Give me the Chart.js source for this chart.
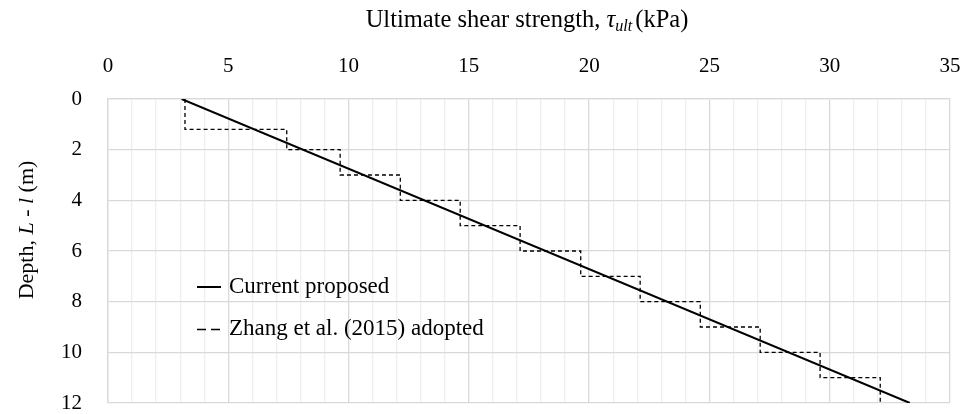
<!DOCTYPE html>
<html>
<head>
<meta charset="utf-8">
<script src="https://cdn.jsdelivr.net/npm/chart.js@4.4.1/dist/chart.umd.min.js"></script>
<style>
  html, body { margin: 0; padding: 0; background: #ffffff; }
  #wrap { width: 969px; height: 414px; }
</style>
</head>
<body>
<div id="wrap"><canvas id="c" width="969" height="414"></canvas></div>
<script>
// Current proposed profile: linear with depth
const currentDepth = [0, 12];
const currentStrength = [3.06, 33.33];

// Zhang et al. (2015) adopted profile: constant strength within each layer
const layerTop = [0, 1.2, 2, 3, 4, 5, 6, 7, 8, 9, 10, 11];
const layerBottom = [1.2, 2, 3, 4, 5, 6, 7, 8, 9, 10, 11, 12];
const layerStrength = [3.2, 7.43, 9.65, 12.15, 14.64, 17.13, 19.65, 22.12, 24.62, 27.11, 29.6, 32.1];

const seriesNames = ['Current proposed', 'Zhang et al. (2015) adopted'];

const xTicks = [0, 5, 10, 15, 20, 25, 30, 35];
const yTicks = [0, 2, 4, 6, 8, 10, 12];

const FONT = '"Liberation Serif", "Times New Roman", serif';
const TICK_FS = 21;
const TITLE_FS = 24.5;
const KEY_FS = 23;

const currentPts = currentDepth.map((d, i) => ({ x: currentStrength[i], y: d }));
const stepPts = [];
layerStrength.forEach((s, i) => {
  stepPts.push({ x: s, y: layerTop[i] });
  stepPts.push({ x: s, y: layerBottom[i] });
});

// draws a run of text pieces with their own style, centred on x
function drawRich(ctx, parts, x, y) {
  let w = 0;
  parts.forEach(p => {
    ctx.font = (p.italic ? 'italic ' : '') + p.size + 'px ' + FONT;
    w += ctx.measureText(p.text).width + (p.gap || 0);
  });
  let cx = x - w / 2;
  parts.forEach(p => {
    ctx.font = (p.italic ? 'italic ' : '') + p.size + 'px ' + FONT;
    ctx.fillText(p.text, cx, y + (p.dy || 0));
    cx += ctx.measureText(p.text).width + (p.gap || 0);
  });
}

const annotations = {
  id: 'axisTitlesAndKey',
  afterDraw(chart) {
    const ctx = chart.ctx;
    ctx.save();
    ctx.fillStyle = '#000';
    ctx.textBaseline = 'middle';
    ctx.textAlign = 'left';

    // horizontal axis title
    drawRich(ctx, [
      { text: 'Ultimate shear strength, ', size: TITLE_FS },
      { text: 'τ', size: TITLE_FS, italic: true },
      { text: 'ult', size: TITLE_FS * 0.66, italic: true, dy: 6, gap: 3 },
      { text: '(kPa)', size: TITLE_FS }
    ], 527, 21);

    // vertical axis title
    ctx.save();
    ctx.translate(27, 230);
    ctx.rotate(-Math.PI / 2);
    drawRich(ctx, [
      { text: 'Depth, ', size: 22 },
      { text: 'L', size: 22, italic: true },
      { text: ' - ', size: 22 },
      { text: 'l', size: 22, italic: true },
      { text: ' (m)', size: 22 }
    ], 0, 0);
    ctx.restore();

    // key inside the plot
    const rows = [287, 329];
    const sampleDash = [[], [9, 5]];
    chart.data.datasets.forEach((ds, i) => {
      const y = rows[i];
      ctx.save();
      ctx.strokeStyle = ds.borderColor;
      ctx.lineWidth = i === 0 ? 2 : 1.4;
      ctx.setLineDash(sampleDash[i]);
      ctx.beginPath();
      ctx.moveTo(197, y + (i === 0 ? 0 : 0.5));
      ctx.lineTo(221, y + (i === 0 ? 0 : 0.5));
      ctx.stroke();
      ctx.restore();
      ctx.font = KEY_FS + 'px ' + FONT;
      ctx.fillText(ds.label, 229, y);
    });
    ctx.restore();
  }
};

function noLabelPadding(scale) {
  scale.paddingTop = 0;
  scale.paddingBottom = 0;
  scale.paddingLeft = 0;
  scale.paddingRight = 0;
}

new Chart(document.getElementById('c'), {
  type: 'scatter',
  data: {
    datasets: [
      {
        label: seriesNames[0],
        data: currentPts,
        showLine: true,
        borderColor: '#000000',
        borderWidth: 2,
        pointRadius: 0,
        fill: false
      },
      {
        label: seriesNames[1],
        data: stepPts,
        showLine: true,
        borderColor: '#000000',
        borderWidth: 1.3,
        borderDash: [4, 3],
        pointRadius: 0,
        fill: false
      }
    ]
  },
  options: {
    responsive: false,
    animation: false,
    events: [],
    layout: { padding: { top: 0, left: 0, right: 19, bottom: 11 } },
    plugins: {
      legend: { display: false },
      tooltip: { enabled: false }
    },
    scales: {
      x: {
        type: 'linear',
        position: 'top',
        min: 0,
        max: 35,
        afterFit(scale) { scale.height = 99; noLabelPadding(scale); },
        afterBuildTicks(scale) {
          const t = [];
          for (let v = 0; v <= 35; v++) t.push({ value: v });
          scale.ticks = t;
        },
        ticks: {
          autoSkip: false,
          maxRotation: 0,
          padding: 20,
          color: '#000',
          font: { family: FONT, size: TICK_FS },
          callback: v => (xTicks.includes(v) ? String(v) : '')
        },
        grid: {
          drawTicks: false,
          lineWidth: 1.3,
          color: c => (c.tick && xTicks.includes(c.tick.value)) ? '#d9d9d9' : '#efefef'
        },
        border: { display: true, color: '#d9d9d9', width: 1.3 }
      },
      y: {
        type: 'linear',
        reverse: true,
        min: 0,
        max: 12,
        afterFit(scale) { scale.width = 108; noLabelPadding(scale); },
        afterBuildTicks(scale) {
          scale.ticks = yTicks.map(v => ({ value: v }));
        },
        ticks: {
          padding: 26,
          color: '#000',
          font: { family: FONT, size: TICK_FS }
        },
        grid: {
          drawTicks: false,
          lineWidth: 1.3,
          color: '#d9d9d9'
        },
        border: { display: true, color: '#d9d9d9', width: 1.3 }
      }
    }
  },
  plugins: [annotations]
});
</script>
</body>
</html>
